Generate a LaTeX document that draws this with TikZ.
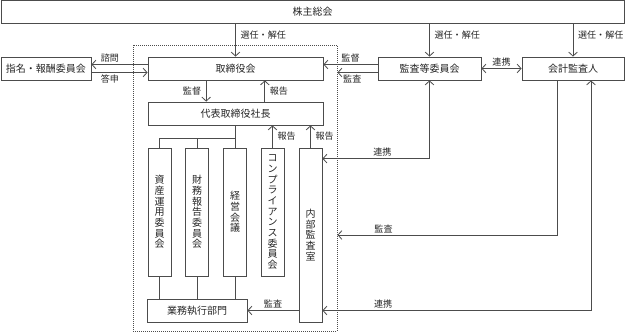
\documentclass[tikz,border=0pt]{standalone}
\usepackage{fontspec}
\setmainfont{Noto Sans CJK JP}
\usetikzlibrary{arrows.meta,positioning}
\definecolor{lineg}{rgb}{0.3,0.3,0.3}
\tikzset{
  box/.style={draw=lineg, line width=0.6pt, inner sep=0pt, minimum height=17.25pt,
    text=black!85, font=\fontsize{7.5}{9}\selectfont},
  tatebox/.style={box, align=center, minimum width=17.25pt, minimum height=96pt,
    font=\fontsize{7.5}{8}\selectfont},
  frame/.style={draw=lineg, line width=0.6pt, dash pattern=on 0.75pt off 0.75pt},
  lbl/.style={inner sep=1.5pt, text=black!85, font=\fontsize{6.8}{8}\selectfont},
  link/.style={draw=lineg, line width=0.6pt},
  >={Straight Barb[length=3pt,width=6.5pt]},
}
\begin{document}
\begin{tikzpicture}[x=0.75pt, y=-0.75pt]
        \useasboundingbox (0,0) rectangle (625,334);
        % Dotted frame
        \node[frame, minimum width=153pt, minimum height=214.5pt] (exec) at (235,188) {};
        % Upper boxes
        \node[box, minimum width=467.25pt] (kabu) at (312.5,12) {株主総会};
        \node[box, minimum width=67.5pt] (shimei) at (46,68.5) {指名・報酬委員会};
        \node[box, minimum width=131.25pt] (tori) at (235.5,68.5) {取締役会};
        \node[box, minimum width=77.25pt] (kansa) at (429.5,68.5) {監査等委員会};
        \node[box, minimum width=76.5pt] (kaikei) at (573,68.5) {会計監査人};
        \node[box, minimum width=131.25pt] (daihyo) at (235.5,113.5) {代表取締役社長};
        % Vertical boxes
        \node[tatebox] (shisan) at (159.5,212) {資\\産\\運\\用\\委\\員\\会};
        \node[tatebox] (zaimu) at (197,212) {財\\務\\報\\告\\委\\員\\会};
        \node[tatebox] (keiei) at (235,212) {経\\営\\会\\議};
        \node[tatebox] (comp) at (272.5,212) {コ\\ン\\プ\\ラ\\イ\\ア\\ン\\ス\\委\\員\\会};
        \node[tatebox, minimum height=130.5pt] (naibu) at (310.5,235) {内\\部\\監\\査\\室};
        \node[box, minimum width=75pt] (gyomu) at (197,310.5) {業務執行部門};
        % Shareholders
        \draw[link,->] (kabu.south -| tori) -- (tori.north) node[lbl, right=2pt, pos=0.35] {選任・解任};
        \draw[link,->] (kabu.south -| kansa) -- (kansa.north) node[lbl, right=2pt, pos=0.35] {選任・解任};
        \draw[link,->] (kabu.south -| kaikei) -- (kaikei.north) node[lbl, right=2pt, pos=0.35] {選任・解任};
        % Board
        \draw[link,->] ([yshift=3pt]tori.west) -- ([yshift=3pt]tori.west -| shimei.east)
        node[lbl, above, pos=0.67] {諮問};
        \draw[link,->] ([yshift=-3pt]shimei.east) -- ([yshift=-3pt]shimei.east -| tori.west)
        node[lbl, below, pos=0.33] {答申};
        \draw[link,->] ([yshift=3pt]kansa.west) -- ([yshift=3pt]kansa.west -| tori.east)
        node[lbl, above, midway] {監督};
        \draw[link,->] ([yshift=-3pt]kansa.west) -- ([yshift=-3pt]kansa.west -| exec.east)
        node[lbl, below, pos=0.63] {監査};
        \draw[link,<->] (kansa) -- (kaikei) node[lbl, above, midway] {連携};
        \draw[link,->] ([xshift=-22pt]tori.south) -- ([xshift=-22pt]daihyo.north)
        node[lbl, left=2pt, midway] {監督};
        \draw[link,->] ([xshift=22pt]daihyo.north) -- ([xshift=22pt]tori.south)
        node[lbl, right=2pt, midway] {報告};
        % President to committees
        \coordinate (fork) at (235,138);
        \draw[link] (daihyo.south -| keiei) -- (keiei.north);
        \draw[link] (shisan.north) |- (fork);
        \draw[link] (zaimu.north) -- (zaimu |- fork);
        \draw[link,->] (comp.north) -- (comp |- daihyo.south) node[lbl, right=2pt, midway] {報告};
        \draw[link,->] (naibu.north) -- (naibu |- daihyo.south) node[lbl, right=2pt, midway] {報告};
        % Committees to operations
        \draw[link] (shisan.south) -- (shisan |- gyomu.north);
        \draw[link] (zaimu.south) -- (zaimu |- gyomu.north);
        \draw[link] (keiei.south) -- (keiei |- gyomu.north);
        \draw[link,->] (naibu.west |- gyomu) -- (gyomu.east) node[lbl, above, midway] {監査};
        % Audit links on the right
        \draw[link,<->] (kansa.south) |- ([yshift=-8.25pt]naibu.north east)
        node[lbl, above, pos=0.72] {連携};
        \draw[link,->] ([xshift=-12pt]kaikei.south) |- (exec.east |- naibu)
        node[lbl, above, pos=0.895] {監査};
        \draw[link,<->] ([xshift=13.5pt]kaikei.south) |- (naibu.east |- gyomu)
        node[lbl, above, pos=0.887] {連携};
    \end{tikzpicture}
\end{document}
